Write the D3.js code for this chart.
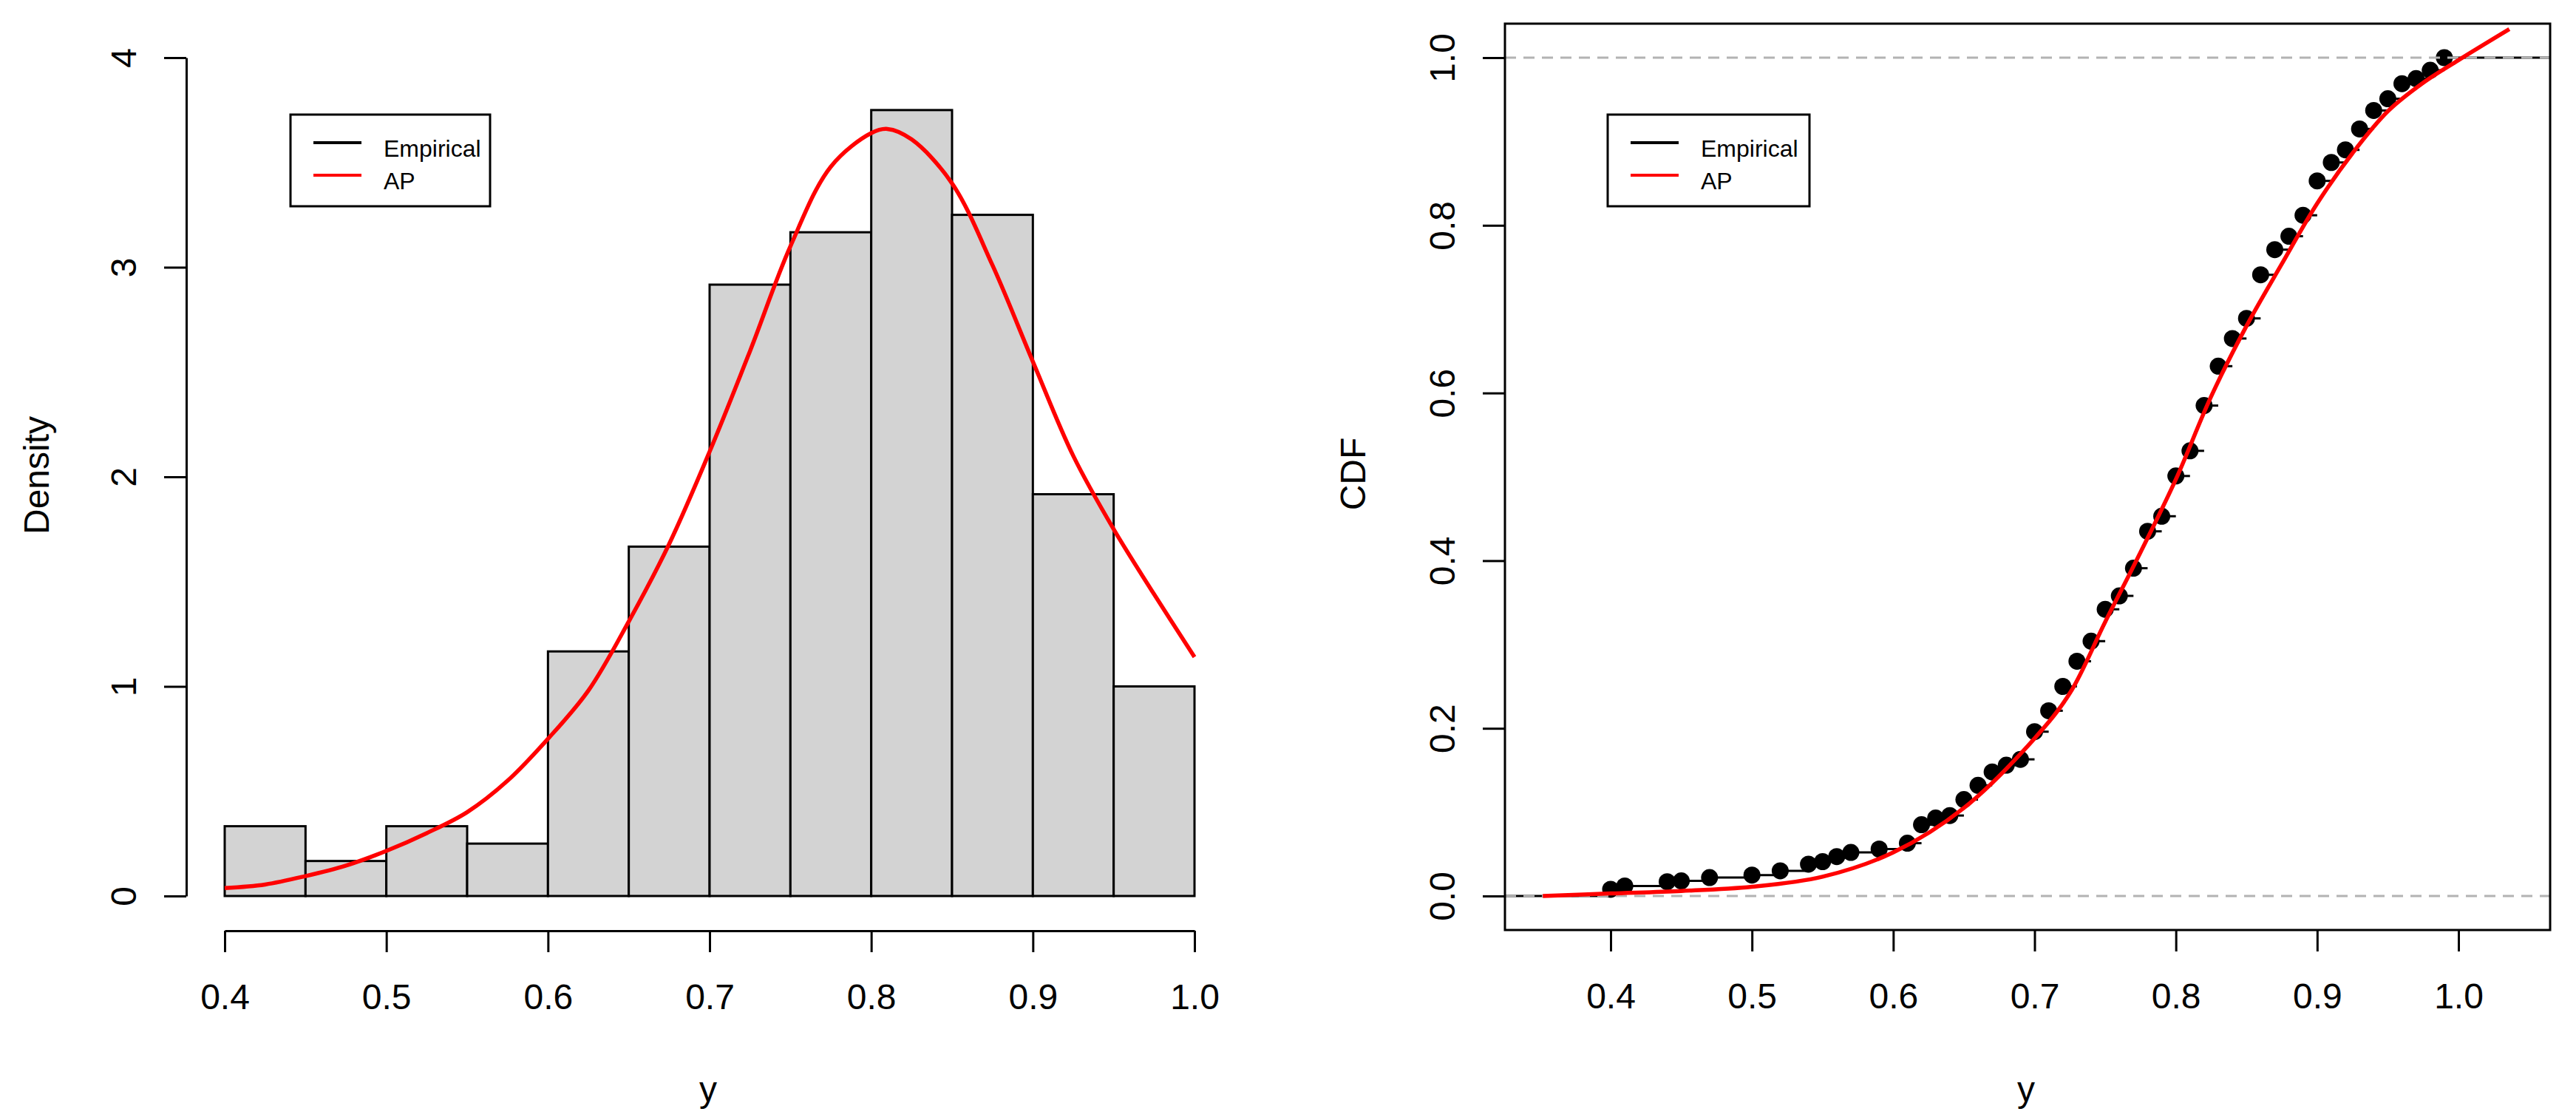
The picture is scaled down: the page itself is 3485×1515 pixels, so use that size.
<!DOCTYPE html>
<html>
<head>
  <title>Density and CDF</title>
  <script src="https://cdn.jsdelivr.net/npm/d3@7"></script>
  <style>
    body { margin: 0; background: #fff; }
    text { font-family: "Liberation Sans", Arial, sans-serif; fill: #000; }
  </style>
</head>
<body>
  <svg width="3485" height="1515"></svg>
</body>
<script>

// histogram of y (density scale)
const histBreaks = [0.40, 0.45, 0.50, 0.55, 0.60, 0.65, 0.70, 0.75, 0.80, 0.85, 0.90, 0.95, 1.00];
const histDensity = [0.333, 0.167, 0.333, 0.25, 1.167, 1.667, 2.917, 3.167, 3.75, 3.25, 1.917, 1.0];

// fitted AP density (red curve, left)
const apPdfX = [0.40, 0.425, 0.45, 0.475, 0.50, 0.525, 0.55, 0.575, 0.60, 0.625, 0.65, 0.675, 0.70, 0.725, 0.75, 0.775, 0.80, 0.81, 0.825, 0.85, 0.875, 0.90, 0.925, 0.95, 0.975, 1.00];
const apPdfY = [0.038, 0.055, 0.095, 0.145, 0.215, 0.30, 0.40, 0.55, 0.75, 0.98, 1.31, 1.68, 2.12, 2.60, 3.10, 3.48, 3.64, 3.66, 3.61, 3.40, 3.01, 2.55, 2.10, 1.75, 1.44, 1.14];

// empirical CDF (right)
const ecdfX = [0.40, 0.41, 0.44, 0.45, 0.47, 0.50, 0.52, 0.54, 0.55, 0.56, 0.57, 0.59, 0.61, 0.62, 0.63, 0.64, 0.65, 0.66, 0.67, 0.68, 0.69,
  0.70, 0.71, 0.72, 0.73, 0.74, 0.75, 0.76, 0.77, 0.78, 0.79, 0.80, 0.81, 0.82, 0.83, 0.84, 0.85, 0.86, 0.87, 0.88, 0.89,
  0.90, 0.91, 0.92, 0.93, 0.94, 0.95, 0.96, 0.97, 0.98, 0.99];
const ecdfY = [0.008, 0.012, 0.017, 0.018, 0.022, 0.025, 0.030, 0.038, 0.041, 0.047, 0.052, 0.056, 0.063, 0.085, 0.093, 0.096, 0.115, 0.132, 0.148, 0.156, 0.163,
  0.196, 0.221, 0.250, 0.280, 0.304, 0.342, 0.358, 0.391, 0.435, 0.453, 0.501, 0.531, 0.585, 0.632, 0.665, 0.689, 0.741, 0.771, 0.787, 0.812,
  0.853, 0.875, 0.890, 0.915, 0.937, 0.951, 0.969, 0.975, 0.985, 1.000];

// fitted AP CDF (red curve, right)
const apCdfX = [0.352, 0.40, 0.45, 0.50, 0.55, 0.60, 0.65, 0.70, 0.725, 0.75, 0.775, 0.80, 0.825, 0.85, 0.875, 0.90, 0.925, 0.95, 0.975, 1.00, 1.036];
const apCdfY = [0.000, 0.003, 0.006, 0.011, 0.023, 0.052, 0.105, 0.188, 0.242, 0.327, 0.410, 0.497, 0.596, 0.680, 0.754, 0.826, 0.886, 0.936, 0.970, 0.997, 1.034];

const xTicks = [0.4, 0.5, 0.6, 0.7, 0.8, 0.9, 1.0];
const densTicks = [0, 1, 2, 3, 4];
const cdfTicks = [0, 0.2, 0.4, 0.6, 0.8, 1.0];
const legendLabels = ['Empirical', 'AP'];
const legendColors = ['#000', '#ff0000'];

let svg = d3.select('svg');
svg.append('rect').attr('width', 3485).attr('height', 1515).attr('fill', '#fff');

let fmt1 = d3.format('.1f');

// scales
let xL = d3.scaleLinear().domain([0.4, 1.0]).range([304, 1616]);
let yL = d3.scaleLinear().domain([0, 4]).range([1212, 78]);
let xR = d3.scaleLinear().domain([0.4, 1.0]).range([2179, 3326]);
let yR = d3.scaleLinear().domain([0, 1]).range([1212, 78]);

let box = { x0: 2036, x1: 3450, y0: 32, y1: 1258 };

let styleAxis = (g) => {
  g.selectAll('path, line').attr('stroke', '#000').attr('stroke-width', 3);
  g.selectAll('text').attr('font-size', 48).attr('fill', '#000')
    .attr('font-family', '"Liberation Sans", Arial, sans-serif');
}

let bottomAxis = (x, yPos, fmt) => {
  let g = svg.append('g').attr('transform', 'translate(0,' + yPos + ')')
    .call(d3.axisBottom(x).tickValues(xTicks).tickFormat(fmt).tickSize(29).tickSizeOuter(0));
  styleAxis(g);
  g.selectAll('text').attr('y', 106).attr('dy', 0);
  return g;
}

let leftAxis = (y, xPos, ticks, fmt) => {
  let g = svg.append('g').attr('transform', 'translate(' + xPos + ',0)')
    .call(d3.axisLeft(y).tickValues(ticks).tickFormat(fmt).tickSize(30).tickSizeOuter(0));
  styleAxis(g);
  g.selectAll('text')
    .attr('transform', 'rotate(-90)')
    .attr('x', 0).attr('y', -68).attr('dy', 0)
    .attr('text-anchor', 'middle');
  return g;
}

let legend = (x0, x1) => {
  let g = svg.append('g');
  g.append('rect').attr('x', x0).attr('y', 155).attr('width', x1 - x0).attr('height', 124)
    .attr('fill', '#fff').attr('stroke', '#000').attr('stroke-width', 3);
  legendLabels.forEach((lab, i) => {
    let yy = 193 + i * 44;
    g.append('line').attr('x1', x0 + 31).attr('x2', x0 + 96).attr('y1', yy).attr('y2', yy)
      .attr('stroke', legendColors[i]).attr('stroke-width', 4);
    g.append('text').attr('x', x0 + 126).attr('y', yy + 19).attr('font-size', 32).text(lab);
  })
}

// ---------- left: histogram ----------
let bars = histDensity.map((d, i) => ({ x0: histBreaks[i], x1: histBreaks[i + 1], d: d }));
svg.append('g').selectAll('rect').data(bars).join('rect')
  .attr('x', b => xL(b.x0))
  .attr('y', b => yL(b.d))
  .attr('width', b => xL(b.x1) - xL(b.x0))
  .attr('height', b => yL(0) - yL(b.d))
  .attr('fill', '#d3d3d3')
  .attr('stroke', '#000')
  .attr('stroke-width', 3);

svg.append('path')
  .datum(apPdfX.map((x, i) => [x, apPdfY[i]]))
  .attr('d', d3.line().x(p => xL(p[0])).y(p => yL(p[1])).curve(d3.curveCatmullRom))
  .attr('fill', 'none').attr('stroke', '#ff0000').attr('stroke-width', 5.5);

bottomAxis(xL, 1259, fmt1);
leftAxis(yL, 252, densTicks, d3.format('d'));

svg.append('text').attr('x', 958).attr('y', 1490).attr('text-anchor', 'middle').attr('font-size', 48).text('y');
svg.append('text').attr('transform', 'translate(66,643) rotate(-90)').attr('text-anchor', 'middle')
  .attr('font-size', 48).text('Density');

legend(393, 663);

// ---------- right: CDF ----------
let segs = [];
segs.push([xR.invert(box.x0), ecdfX[0], 0]);
ecdfX.forEach((x, i) => {
  let next = i < ecdfX.length - 1 ? ecdfX[i + 1] : xR.invert(box.x1);
  segs.push([x, next, ecdfY[i]]);
});
svg.append('g').selectAll('line').data(segs).join('line')
  .attr('x1', s => xR(s[0])).attr('x2', s => xR(s[1]))
  .attr('y1', s => yR(s[2])).attr('y2', s => yR(s[2]))
  .attr('stroke', '#000').attr('stroke-width', 3);

svg.append('g').selectAll('circle').data(ecdfX).join('circle')
  .attr('cx', (x) => xR(x))
  .attr('cy', (x, i) => yR(ecdfY[i]))
  .attr('r', 11.5)
  .attr('fill', '#000');

svg.append('g').selectAll('line').data([0, 1]).join('line')
  .attr('x1', box.x0).attr('x2', box.x1)
  .attr('y1', d => yR(d)).attr('y2', d => yR(d))
  .attr('stroke', '#b3b3b3').attr('stroke-width', 3).attr('stroke-dasharray', '15,10');

svg.append('path')
  .datum(apCdfX.map((x, i) => [x, apCdfY[i]]))
  .attr('d', d3.line().x(p => xR(p[0])).y(p => yR(p[1])).curve(d3.curveCatmullRom))
  .attr('fill', 'none').attr('stroke', '#ff0000').attr('stroke-width', 5.5);

svg.append('rect').attr('x', box.x0).attr('y', box.y0)
  .attr('width', box.x1 - box.x0).attr('height', box.y1 - box.y0)
  .attr('fill', 'none').attr('stroke', '#000').attr('stroke-width', 3);

let bx = bottomAxis(xR, box.y1, fmt1);
bx.select('.domain').remove();
let ly = leftAxis(yR, box.x0, cdfTicks, fmt1);
ly.select('.domain').remove();

svg.append('text').attr('x', 2741).attr('y', 1490).attr('text-anchor', 'middle').attr('font-size', 48).text('y');
svg.append('text').attr('transform', 'translate(1847,641) rotate(-90)').attr('text-anchor', 'middle')
  .attr('font-size', 48).text('CDF');

legend(2175, 2448);

</script>
</html>
